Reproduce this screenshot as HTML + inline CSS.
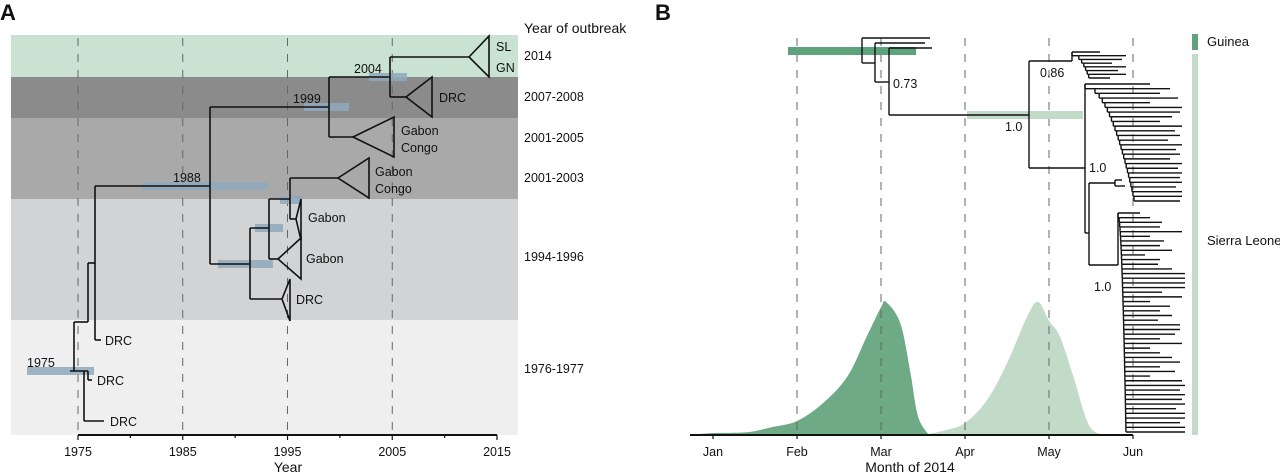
<!DOCTYPE html>
<html><head><meta charset="utf-8">
<style>
html,body{margin:0;padding:0;background:#fff;}
svg{display:block;font-family:"Liberation Sans",sans-serif;}
text{fill:#111;}
</style></head>
<body>
<svg id="fig" width="1280" height="476" viewBox="0 0 1280 476" xmlns="http://www.w3.org/2000/svg">
<g id="panelA"></g>
<g id="panelB"></g>
</svg>
<script>
// ---------- Panel A data ----------
const bandLabels = ["2014","2007-2008","2001-2005","2001-2003","1994-1996","1976-1977"];
const yearTicks = [1975,1985,1995,2005,2015];
const nodeYears = [1975,1988,1999,2004];
// ---------- Panel B data ----------
const months = ["Jan","Feb","Mar","Apr","May","Jun"];
const guineaMonth = [-0.27,0,0.4,0.71,1.0,1.31,1.6,1.83,2.0,2.06,2.23,2.35,2.44,2.57];
const guineaDensity = [0.0,0.015,0.02,0.06,0.105,0.24,0.44,0.74,0.96,1.0,0.84,0.47,0.14,0.0];
const slMonth = [2.5,2.79,3.0,3.26,3.5,3.74,3.87,4.0,4.13,4.29,4.45,4.57,4.72];
const slDensity = [0.0,0.04,0.09,0.26,0.54,0.89,1.0,0.86,0.74,0.44,0.11,0.015,0.0];

const NS="http://www.w3.org/2000/svg";
function mk(parent,tag,attrs,text){
  const e=document.createElementNS(NS,tag);
  for(const k in attrs) e.setAttribute(k,attrs[k]);
  if(text!==undefined) e.textContent=text;
  parent.appendChild(e); return e;
}
const A=document.getElementById('panelA');
const B=document.getElementById('panelB');
const xA=y=>78+(y-1975)*10.475;

let t=mk(A,'text',{x:0,y:20,'font-size':22,'font-weight':'bold'},'A');



const bandRects=[[35,77,'#c9e2d1'],[77,118,'#8b8b8b'],[118,199,'#a9a9aa'],[199,320,'#d2d3d4'],[320,435,'#efefef']];
bandRects.forEach(b=>{
  const r=mk(A,'rect',{x:11,y:b[0],width:507,height:b[1]-b[0],fill:b[2]});
  
  
});
const bandLabelY=[56,97,138,178,257,369];
t=mk(A,'text',{x:524,y:33,'font-size':14},'Year of outbreak');


bandLabels.forEach((l,i)=>{
  const e=mk(A,'text',{x:524,y:bandLabelY[i]+4,'font-size':12.5},l);
  
  
});
yearTicks.slice(0,4).forEach(y=>{
  const l=mk(A,'line',{x1:xA(y),x2:xA(y),y1:38,y2:435,stroke:'#666','stroke-width':1,'stroke-dasharray':'8,8'});
  
  
});
[[27,94,371],[142,267,186],[304,349,107],[369,407,77],[218,273,264],[255,283,228],[280,302,200]].forEach(b=>{
  const r=mk(A,'rect',{x:b[0],y:b[2]-4,width:b[1]-b[0],height:8,fill:'#8fa8bb',opacity:0.85});
  
  
});
const segs=[
 [74,322,74,371],[74,322,88,322],[88,263,88,322],[88,263,95,263],
 [70,371,88,371],[88,371,88,380],[88,380,92,380],[84,371,84,421],[84,421,104,421],
 [95,186,95,340],[95,340,101,340],[95,186,210,186],
 [210,107,210,264],[210,107,329,107],[210,264,250,264],
 [329,77,329,137],[329,77,390,77],[329,137,353,137],
 [390,57,390,97],[390,57,469,57],[390,97,406,97],
 [250,228,250,299],[250,299,282,299],[250,228,269,228],
 [269,199,269,259],[269,259,278,259],[269,199,290,199],
 [290,178,290,219],[290,178,338,178],[290,219,296,219]
];
segs.forEach(s=>{
  const l=mk(A,'line',{x1:s[0],y1:s[1],x2:s[2],y2:s[3],stroke:'#111','stroke-width':1.6});
  
  
});
const tris=[[469,57,489,36,77],[406,97,432,77,117],[353,137,394,117,157],[338,178,369,158,198],[296,219,301,199,240],[278,259,301,238,279],[282,299,290,279,321]];
tris.forEach(tr=>{
  const p=mk(A,'polygon',{points:`${tr[0]},${tr[1]} ${tr[2]},${tr[3]} ${tr[2]},${tr[4]}`,fill:'none',stroke:'#111','stroke-width':1.6});
  
  
});
const labsA=[[496,51,'SL'],[496,72,'GN'],[439,102,'DRC'],[401,135,'Gabon'],[401,152,'Congo'],[375,176,'Gabon'],[375,193,'Congo'],[308,222,'Gabon'],[306,263,'Gabon'],[296,304,'DRC'],[105,345,'DRC'],[97,385,'DRC'],[110,426,'DRC']];
labsA.forEach(l=>{
  const e=mk(A,'text',{x:l[0],y:l[1],'font-size':12.5},l[2]);
  
  
});
const nodePos=[[27,367],[173,182],[293,103],[354,73]];
nodeYears.forEach((y,i)=>{
  const e=mk(A,'text',{x:nodePos[i][0],y:nodePos[i][1],'font-size':12.5},String(y));
  
  
});
let ax=mk(A,'line',{x1:xA(1975),x2:xA(2015),y1:435,y2:435,stroke:'#111','stroke-width':2});


for(let y=1975;y<=2015;y+=5){
  const l=mk(A,'line',{x1:xA(y),x2:xA(y),y1:435,y2:y%10===5?440:438,stroke:'#111','stroke-width':1.2});
  
  
}
yearTicks.forEach(y=>{
  const e=mk(A,'text',{x:xA(y),y:456,'font-size':12.5,'text-anchor':'middle'},String(y));
  
  
});
t=mk(A,'text',{x:288,y:472,'font-size':14,'text-anchor':'middle'},'Year');



// ---------- Panel B ----------
const xB=m=>713+m*84;
const yB=d=>435-d*133;
t=mk(B,'text',{x:655,y:20,'font-size':22,'font-weight':'bold'},'B');


function area(ms,ds,fill,name){
  const pts=ms.map((m,i)=>[xB(m),yB(ds[i])]);
  let d=`M${pts[0][0].toFixed(1)},435 L${pts[0][0].toFixed(1)},${pts[0][1].toFixed(1)} `;
  for(let i=0;i<pts.length-1;i++){
    const p0=pts[Math.max(0,i-1)],p1=pts[i],p2=pts[i+1],p3=pts[Math.min(pts.length-1,i+2)];
    const c1=[p1[0]+(p2[0]-p0[0])/6,p1[1]+(p2[1]-p0[1])/6];
    const c2=[p2[0]-(p3[0]-p1[0])/6,p2[1]-(p3[1]-p1[1])/6];
    d+=`C${c1[0].toFixed(1)},${Math.min(435,c1[1]).toFixed(1)} ${c2[0].toFixed(1)},${Math.min(435,c2[1]).toFixed(1)} ${p2[0].toFixed(1)},${p2[1].toFixed(1)} `;
  }
  d+=`L${pts[pts.length-1][0].toFixed(1)},435 Z`;
  const p=mk(B,'path',{d:d,fill:fill});
  
  
}
area(slMonth,slDensity,'#c2dbc9','sierra-leone-density');
area(guineaMonth,guineaDensity,'#6faa87','guinea-density');
for(let i=1;i<months.length;i++){
  const l=mk(B,'line',{x1:xB(i),x2:xB(i),y1:38,y2:435,stroke:'#666','stroke-width':1,'stroke-dasharray':'8,8'});
  
  
}
let r=mk(B,'rect',{x:788,y:47,width:128,height:8,fill:'#5fa37c'});


r=mk(B,'rect',{x:967,y:111,width:116,height:8,fill:'#c2dbc9'});


const segB=[
 [862,38,862,63],[862,38,930,38],[862,63,875,63],[875,43,875,82],[875,43,925,43],
 [889,48,889,115],[889,48,932,48],[875,82,889,82],[889,115,1029,115],
 [1029,61,1029,168],[1029,61,1072,61],[1029,168,1085,168],
 [1085,93,1085,233],[1085,233,1089,233],[1089,183,1089,265],[1089,183,1115,183],[1115,180,1115,186],[1115,180,1122,180],[1115,186,1125,186],[1089,265,1118,265]
];
function bl(s){
  const l=mk(B,'line',{x1:s[0],y1:s[1],x2:s[2],y2:s[3],stroke:'#111','stroke-width':1.4});
  
  
}
segB.forEach(bl);
const clade086Ends=[1100,1126,1122,1112,1126,1118,1126,1110];
const upperEnds=[1150,1170,1160,1178,1150,1182,1180,1172,1160,1182,1175,1180,1168,1182,1176,1180,1170,1182,1178,1182,1180,1182,1176,1182,1182,1180];
const lowerEnds=[1140,1150,1162,1160,1182,1150,1164,1160,1172,1145,1160,1158,1172,1185,1185,1185,1185,1162,1182,1150,1170,1160,1172,1158,1180,1180,1175,1160,1182,1150,1160,1172,1180,1160,1175,1150,1182,1185,1180,1185,1182,1185,1176,1185,1185,1180,1185,1185];
function ladder(x0,x1,y0,y1,ends,topY){
  const n=ends.length, dy=(y1-y0)/(n-1);
  let prevX=x0, prevY=topY;
  ends.forEach((e,i)=>{
    const y=y0+i*dy;
    const bx=x0+(x1-x0)*Math.sqrt(i/(n-1));
    bl([prevX,prevY,prevX,y]);
    if(Math.abs(bx-prevX)>0.5) bl([prevX,y,bx,y]);
    bl([bx,y,e,y]);
    prevX=bx; prevY=y;
  });
}
ladder(1072,1090,52,78,clade086Ends,61);
ladder(1085,1135,84,201,upperEnds,93);
ladder(1118,1126,213,432,lowerEnds,265);
const labsB=[[893,88,'0.73'],[1040,77,'0.86'],[1005,131,'1.0'],[1089,172,'1.0'],[1094,291,'1.0']];
labsB.forEach(l=>{
  const e=mk(B,'text',{x:l[0],y:l[1],'font-size':12.5},l[2]);
  
  
});
r=mk(B,'rect',{x:1192,y:34,width:6,height:16,fill:'#5fa37c'});


r=mk(B,'rect',{x:1192,y:54,width:6,height:381,fill:'#c2dbc9'});


t=mk(B,'text',{x:1207,y:46,'font-size':13},'Guinea');


t=mk(B,'text',{x:1207,y:245,'font-size':13},'Sierra Leone');


ax=mk(B,'line',{x1:690,x2:1133,y1:435,y2:435,stroke:'#111','stroke-width':2});


months.forEach((m,i)=>{
  const l=mk(B,'line',{x1:xB(i),x2:xB(i),y1:435,y2:439,stroke:'#111','stroke-width':1.2});
  
  
  const e=mk(B,'text',{x:xB(i),y:456,'font-size':12.5,'text-anchor':'middle'},m);
  
  
});
t=mk(B,'text',{x:910,y:472,'font-size':14,'text-anchor':'middle'},'Month of 2014');


</script>
</body></html>
